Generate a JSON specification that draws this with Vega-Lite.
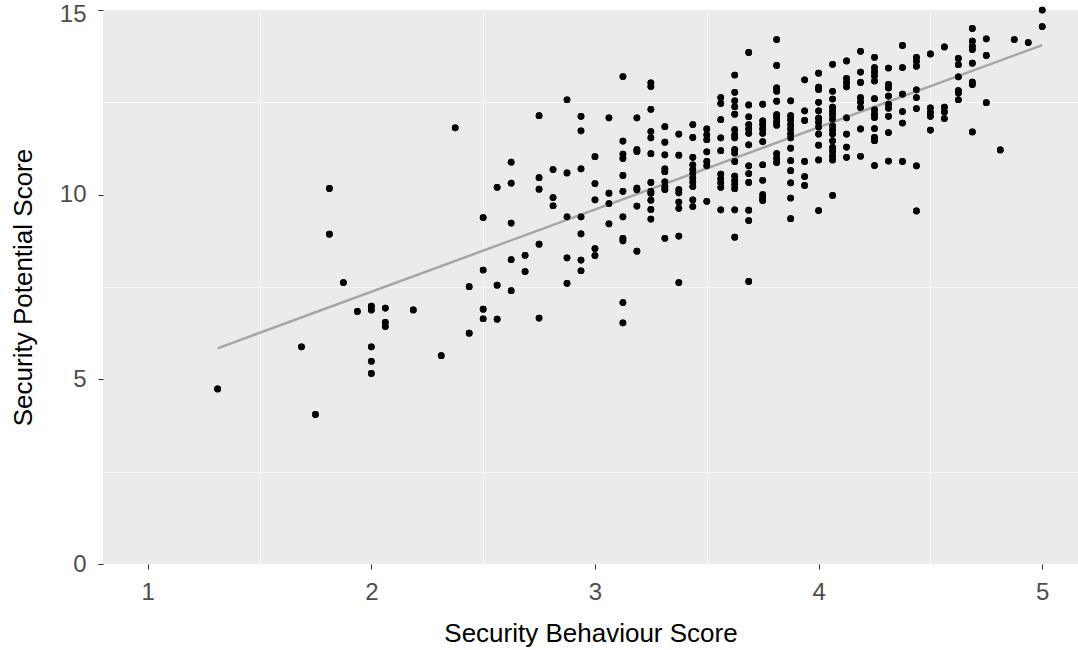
{
  "$schema": "https://vega.github.io/schema/vega-lite/v6.json",
  "width": 975,
  "height": 554,
  "autosize": {"type": "none"},
  "padding": {"left": 103, "top": 10, "right": 0, "bottom": 86},
  "background": "white",
  "config": {
    "view": {"fill": "#EBEBEB", "stroke": null},
    "font": "Liberation Sans",
    "axis": {
      "domain": false,
      "gridColor": "white",
      "gridWidth": 1.3,
      "tickColor": "#333333",
      "tickSize": 5,
      "tickWidth": 1.1,
      "labelColor": "#4D4D4D",
      "labelFontSize": 24,
      "labelFont": "Liberation Sans",
      "titleFont": "Liberation Sans",
      "titleFontSize": 26,
      "titleFontWeight": "normal",
      "titleColor": "black"
    }
  },
  "datasets": {
    "pts": [
      {"x":1.3125,"y":4.74},
      {"x":1.6875,"y":5.88},
      {"x":1.75,"y":4.05},
      {"x":1.8125,"y":10.17},{"x":1.8125,"y":8.93},
      {"x":1.875,"y":7.62},
      {"x":1.9375,"y":6.84},
      {"x":2,"y":6.98},{"x":2,"y":6.88},{"x":2,"y":5.88},{"x":2,"y":5.49},{"x":2,"y":5.16},
      {"x":2.0625,"y":6.93},{"x":2.0625,"y":6.54},{"x":2.0625,"y":6.43},
      {"x":2.1875,"y":6.88},
      {"x":2.3125,"y":5.64},
      {"x":2.375,"y":11.81},
      {"x":2.4375,"y":7.51},{"x":2.4375,"y":6.25},
      {"x":2.5,"y":9.38},{"x":2.5,"y":7.96},{"x":2.5,"y":6.9},{"x":2.5,"y":6.64},
      {"x":2.5625,"y":10.2},{"x":2.5625,"y":7.55},{"x":2.5625,"y":6.63},
      {"x":2.625,"y":10.88},{"x":2.625,"y":10.31},{"x":2.625,"y":9.23},{"x":2.625,"y":8.24},{"x":2.625,"y":7.4},
      {"x":2.6875,"y":8.36},{"x":2.6875,"y":7.92},
      {"x":2.75,"y":12.14},{"x":2.75,"y":10.46},{"x":2.75,"y":10.15},{"x":2.75,"y":8.66},{"x":2.75,"y":6.66},
      {"x":2.8125,"y":10.68},{"x":2.8125,"y":9.92},{"x":2.8125,"y":9.7},
      {"x":2.875,"y":12.57},{"x":2.875,"y":10.59},{"x":2.875,"y":9.4},{"x":2.875,"y":8.29},{"x":2.875,"y":7.6},
      {"x":2.9375,"y":12.12},{"x":2.9375,"y":11.73},{"x":2.9375,"y":10.7},{"x":2.9375,"y":9.4},{"x":2.9375,"y":8.94},{"x":2.9375,"y":8.23},{"x":2.9375,"y":7.94},
      {"x":3,"y":11.03},{"x":3,"y":10.3},{"x":3,"y":9.86},{"x":3,"y":8.54},{"x":3,"y":8.35},
      {"x":3.0625,"y":12.08},{"x":3.0625,"y":10.04},{"x":3.0625,"y":9.76},{"x":3.0625,"y":9.21},
      {"x":3.125,"y":13.2},{"x":3.125,"y":11.45},{"x":3.125,"y":11.1},{"x":3.125,"y":10.98},{"x":3.125,"y":10.52},{"x":3.125,"y":10.09},{"x":3.125,"y":9.4},{"x":3.125,"y":8.82},{"x":3.125,"y":8.75},{"x":3.125,"y":7.08},{"x":3.125,"y":6.53},
      {"x":3.1875,"y":12.08},{"x":3.1875,"y":11.22},{"x":3.1875,"y":11.17},{"x":3.1875,"y":10.18},{"x":3.1875,"y":10.13},{"x":3.1875,"y":9.69},{"x":3.1875,"y":8.47},
      {"x":3.25,"y":13.03},{"x":3.25,"y":12.93},{"x":3.25,"y":12.31},{"x":3.25,"y":11.71},{"x":3.25,"y":11.54},{"x":3.25,"y":11.11},{"x":3.25,"y":10.33},{"x":3.25,"y":10.09},{"x":3.25,"y":10.04},{"x":3.25,"y":9.85},{"x":3.25,"y":9.6},{"x":3.25,"y":9.34},
      {"x":3.3125,"y":11.84},{"x":3.3125,"y":11.42},{"x":3.3125,"y":11.08},{"x":3.3125,"y":10.7},{"x":3.3125,"y":10.62},{"x":3.3125,"y":10.35},{"x":3.3125,"y":10.22},{"x":3.3125,"y":10.14},{"x":3.3125,"y":8.82},
      {"x":3.375,"y":11.64},{"x":3.375,"y":11.07},{"x":3.375,"y":10.14},{"x":3.375,"y":10.05},{"x":3.375,"y":9.8},{"x":3.375,"y":9.63},{"x":3.375,"y":8.88},{"x":3.375,"y":7.62},
      {"x":3.4375,"y":11.9},{"x":3.4375,"y":11.55},{"x":3.4375,"y":11.01},{"x":3.4375,"y":10.81},{"x":3.4375,"y":10.68},{"x":3.4375,"y":10.57},{"x":3.4375,"y":10.45},{"x":3.4375,"y":10.34},{"x":3.4375,"y":10.22},{"x":3.4375,"y":9.86},{"x":3.4375,"y":9.68},
      {"x":3.5,"y":11.78},{"x":3.5,"y":11.62},{"x":3.5,"y":11.49},{"x":3.5,"y":11.16},{"x":3.5,"y":10.9},{"x":3.5,"y":10.78},{"x":3.5,"y":9.82},
      {"x":3.5625,"y":12.63},{"x":3.5625,"y":12.47},{"x":3.5625,"y":12.03},{"x":3.5625,"y":11.54},{"x":3.5625,"y":11.19},{"x":3.5625,"y":10.56},{"x":3.5625,"y":10.43},{"x":3.5625,"y":10.32},{"x":3.5625,"y":10.2},{"x":3.5625,"y":9.59},
      {"x":3.625,"y":13.24},{"x":3.625,"y":12.77},{"x":3.625,"y":12.54},{"x":3.625,"y":12.38},{"x":3.625,"y":12.18},{"x":3.625,"y":11.76},{"x":3.625,"y":11.62},{"x":3.625,"y":11.54},{"x":3.625,"y":11.22},{"x":3.625,"y":11.13},{"x":3.625,"y":10.9},{"x":3.625,"y":10.5},{"x":3.625,"y":10.38},{"x":3.625,"y":10.27},{"x":3.625,"y":10.16},{"x":3.625,"y":9.59},{"x":3.625,"y":8.85},
      {"x":3.6875,"y":13.85},{"x":3.6875,"y":12.43},{"x":3.6875,"y":12.11},{"x":3.6875,"y":11.9},{"x":3.6875,"y":11.78},{"x":3.6875,"y":11.66},{"x":3.6875,"y":11.35},{"x":3.6875,"y":10.78},{"x":3.6875,"y":10.57},{"x":3.6875,"y":10.33},{"x":3.6875,"y":9.58},{"x":3.6875,"y":9.3},{"x":3.6875,"y":7.65},
      {"x":3.75,"y":12.45},{"x":3.75,"y":12.0},{"x":3.75,"y":11.9},{"x":3.75,"y":11.78},{"x":3.75,"y":11.66},{"x":3.75,"y":11.44},{"x":3.75,"y":10.81},{"x":3.75,"y":10.39},{"x":3.75,"y":10.0},{"x":3.75,"y":9.91},{"x":3.75,"y":9.84},
      {"x":3.8125,"y":14.2},{"x":3.8125,"y":13.5},{"x":3.8125,"y":12.89},{"x":3.8125,"y":12.8},{"x":3.8125,"y":12.53},{"x":3.8125,"y":12.17},{"x":3.8125,"y":12.08},{"x":3.8125,"y":11.97},{"x":3.8125,"y":11.88},{"x":3.8125,"y":11.11},{"x":3.8125,"y":10.98},{"x":3.8125,"y":10.87},
      {"x":3.875,"y":12.54},{"x":3.875,"y":12.14},{"x":3.875,"y":12.03},{"x":3.875,"y":11.9},{"x":3.875,"y":11.78},{"x":3.875,"y":11.65},{"x":3.875,"y":11.54},{"x":3.875,"y":11.26},{"x":3.875,"y":10.92},{"x":3.875,"y":10.65},{"x":3.875,"y":10.32},{"x":3.875,"y":9.91},{"x":3.875,"y":9.35},
      {"x":3.9375,"y":13.11},{"x":3.9375,"y":12.27},{"x":3.9375,"y":12.01},{"x":3.9375,"y":10.9},{"x":3.9375,"y":10.49},{"x":3.9375,"y":10.25},
      {"x":4,"y":13.29},{"x":4,"y":12.91},{"x":4,"y":12.85},{"x":4,"y":12.5},{"x":4,"y":12.27},{"x":4,"y":12.07},{"x":4,"y":11.96},{"x":4,"y":11.83},{"x":4,"y":11.64},{"x":4,"y":11.34},{"x":4,"y":10.94},{"x":4,"y":9.57},
      {"x":4.0625,"y":13.53},{"x":4.0625,"y":12.8},{"x":4.0625,"y":12.59},{"x":4.0625,"y":12.37},{"x":4.0625,"y":12.26},{"x":4.0625,"y":12.16},{"x":4.0625,"y":12.04},{"x":4.0625,"y":11.86},{"x":4.0625,"y":11.75},{"x":4.0625,"y":11.64},{"x":4.0625,"y":11.46},{"x":4.0625,"y":11.28},{"x":4.0625,"y":11.17},{"x":4.0625,"y":11.05},{"x":4.0625,"y":10.94},{"x":4.0625,"y":9.98},
      {"x":4.125,"y":13.62},{"x":4.125,"y":13.15},{"x":4.125,"y":13.04},{"x":4.125,"y":12.92},{"x":4.125,"y":12.08},{"x":4.125,"y":11.64},{"x":4.125,"y":11.29},{"x":4.125,"y":11.01},
      {"x":4.1875,"y":13.88},{"x":4.1875,"y":13.32},{"x":4.1875,"y":13.04},{"x":4.1875,"y":12.63},{"x":4.1875,"y":12.51},{"x":4.1875,"y":12.36},{"x":4.1875,"y":11.78},{"x":4.1875,"y":11.04},
      {"x":4.25,"y":13.72},{"x":4.25,"y":13.44},{"x":4.25,"y":13.33},{"x":4.25,"y":13.22},{"x":4.25,"y":13.08},{"x":4.25,"y":12.6},{"x":4.25,"y":12.3},{"x":4.25,"y":12.18},{"x":4.25,"y":12.09},{"x":4.25,"y":11.79},{"x":4.25,"y":11.55},{"x":4.25,"y":11.46},{"x":4.25,"y":10.79},
      {"x":4.3125,"y":13.43},{"x":4.3125,"y":12.99},{"x":4.3125,"y":12.89},{"x":4.3125,"y":12.67},{"x":4.3125,"y":12.45},{"x":4.3125,"y":12.34},{"x":4.3125,"y":12.12},{"x":4.3125,"y":11.68},{"x":4.3125,"y":10.91},
      {"x":4.375,"y":14.04},{"x":4.375,"y":13.44},{"x":4.375,"y":12.72},{"x":4.375,"y":12.25},{"x":4.375,"y":11.94},{"x":4.375,"y":10.9},
      {"x":4.4375,"y":13.72},{"x":4.4375,"y":13.61},{"x":4.4375,"y":13.48},{"x":4.4375,"y":12.84},{"x":4.4375,"y":12.63},{"x":4.4375,"y":12.33},{"x":4.4375,"y":10.78},{"x":4.4375,"y":9.56},
      {"x":4.5,"y":13.81},{"x":4.5,"y":12.35},{"x":4.5,"y":12.23},{"x":4.5,"y":12.12},{"x":4.5,"y":11.75},
      {"x":4.5625,"y":14.0},{"x":4.5625,"y":12.37},{"x":4.5625,"y":12.24},{"x":4.5625,"y":12.06},
      {"x":4.625,"y":13.69},{"x":4.625,"y":13.52},{"x":4.625,"y":13.19},{"x":4.625,"y":12.82},{"x":4.625,"y":12.75},{"x":4.625,"y":12.57},
      {"x":4.6875,"y":14.5},{"x":4.6875,"y":14.16},{"x":4.6875,"y":14.02},{"x":4.6875,"y":13.93},{"x":4.6875,"y":13.56},{"x":4.6875,"y":13.05},{"x":4.6875,"y":12.98},{"x":4.6875,"y":11.7},
      {"x":4.75,"y":14.22},{"x":4.75,"y":13.77},{"x":4.75,"y":12.49},
      {"x":4.8125,"y":11.21},
      {"x":4.875,"y":14.2},
      {"x":4.9375,"y":14.12},
      {"x":5,"y":15.0},{"x":5,"y":14.55}
    ],
    "fit": [
      {"x":1.3125,"y":5.84},
      {"x":5,"y":14.05}
    ]
  },
  "layer": [
    {
      "data": {"name": "pts"},
      "mark": {"type": "point", "filled": true, "opacity": 1, "color": "black", "size": 45},
      "encoding": {
        "x": {"field": "x", "type": "quantitative", "scale": {"domain": [0.8, 5.16], "nice": false, "zero": false},
          "axis": {"values": [1.5, 2.5, 3.5, 4.5], "labels": false, "ticks": false, "title": null, "gridWidth": 0.6, "orient": "bottom"}},
        "y": {"field": "y", "type": "quantitative", "scale": {"domain": [0, 15], "nice": false, "zero": false},
          "axis": {"values": [2.5, 7.5, 12.5], "labels": false, "ticks": false, "title": null, "gridWidth": 0.6, "orient": "left"}}
      }
    },
    {
      "data": {"name": "fit"},
      "mark": {"type": "line", "color": "#A6A6A6", "strokeWidth": 2.5},
      "encoding": {
        "x": {"field": "x", "type": "quantitative",
          "axis": {"values": [1, 2, 3, 4, 5], "title": "Security Behaviour Score", "labelPadding": 11, "titlePadding": 16, "orient": "bottom"}},
        "y": {"field": "y", "type": "quantitative",
          "axis": {"values": [0, 5, 10, 15], "title": "Security Potential Score", "labelPadding": 12, "titlePadding": 23, "orient": "left",
            "labelOffset": {"condition": {"test": "datum.value === 15", "value": 4}, "value": 0}}}
      }
    },
    {
      "data": {"name": "pts"},
      "mark": {"type": "point", "filled": true, "opacity": 1, "color": "black", "size": 45},
      "encoding": {
        "x": {"field": "x", "type": "quantitative", "axis": null},
        "y": {"field": "y", "type": "quantitative", "axis": null}
      }
    }
  ],
  "resolve": {"axis": {"x": "independent", "y": "independent"}}
}
